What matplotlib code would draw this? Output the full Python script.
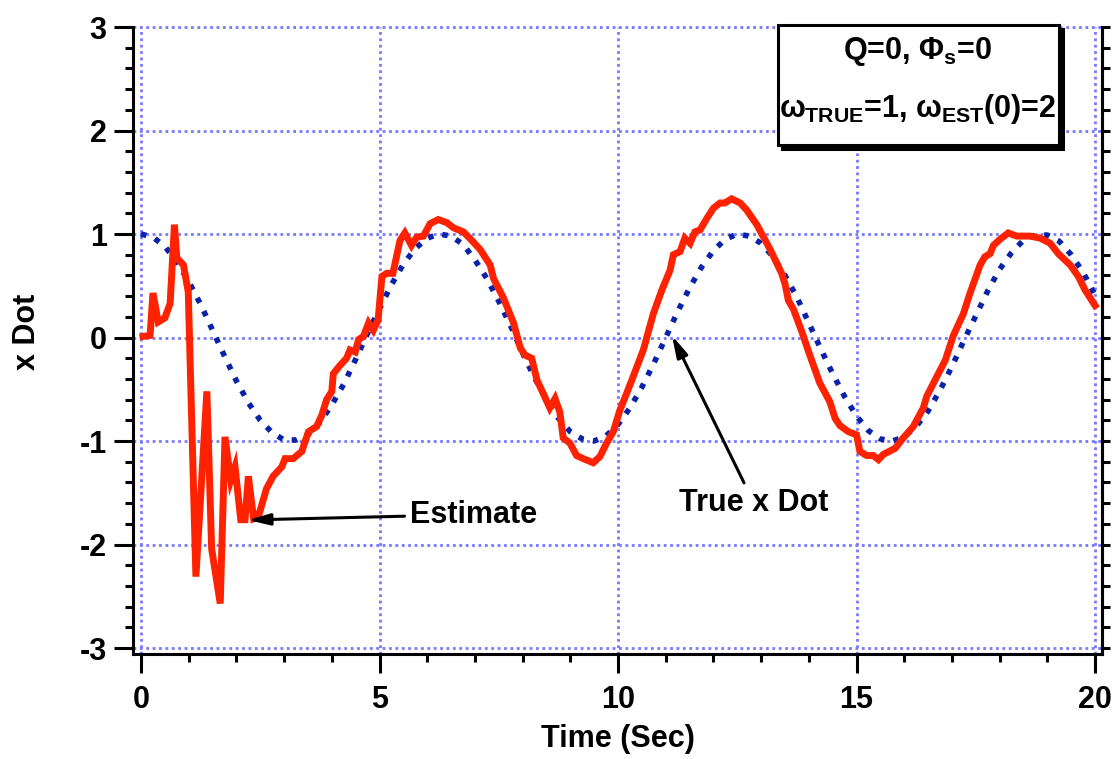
import numpy as np
import matplotlib
matplotlib.use('Agg')
import matplotlib.pyplot as plt
from matplotlib.patches import Rectangle

plt.rcParams['font.family'] = ['Liberation Sans', 'DejaVu Sans']
plt.rcParams['font.weight'] = 'bold'
plt.rcParams['axes.unicode_minus'] = False
plt.rcParams['mathtext.fontset'] = 'custom'
plt.rcParams['mathtext.rm'] = 'Liberation Sans:bold'
plt.rcParams['mathtext.it'] = 'Liberation Sans:bold'
plt.rcParams['mathtext.bf'] = 'Liberation Sans:bold'

# true x dot, every 0.25 s
t_true = np.arange(0, 20.01, 0.25)
x_true = [1.00, 0.97, 0.88, 0.73, 0.54, 0.32, 0.07, -0.18, -0.42, -0.63,
          -0.80, -0.92, -0.99, -0.99, -0.94, -0.82, -0.65, -0.45, -0.21, 0.04,
          0.28, 0.51, 0.71, 0.86, 0.96, 1.00, 0.98, 0.90, 0.75, 0.57,
          0.35, 0.11, -0.15, -0.39, -0.60, -0.78, -0.91, -0.98, -1.00, -0.95,
          -0.84, -0.68, -0.48, -0.25, 0.00, 0.25, 0.48, 0.68, 0.84, 0.95,
          1.00, 0.98, 0.91, 0.78, 0.60, 0.39, 0.14, -0.11, -0.35, -0.57,
          -0.76, -0.90, -0.98, -1.00, -0.96, -0.86, -0.71, -0.51, -0.28, -0.03,
          0.21, 0.45, 0.66, 0.82, 0.94, 0.99, 0.99, 0.93, 0.80, 0.63, 0.41]

# estimate (red)
t_est = [0.04, 0.19, 0.25, 0.36, 0.50, 0.61, 0.70, 0.75, 0.89, 0.99,
         1.15, 1.38, 1.48, 1.66, 1.76, 1.88, 1.97, 2.09, 2.18, 2.25,
         2.36, 2.46, 2.63, 2.77, 2.95, 3.02, 3.19, 3.37, 3.51, 3.68,
         3.79, 3.89, 4.00, 4.03, 4.17, 4.31, 4.38, 4.49, 4.56, 4.66,
         4.77, 4.87, 4.97, 5.05, 5.15, 5.28, 5.43, 5.53, 5.67, 5.78,
         5.92, 6.06, 6.23, 6.41, 6.55, 6.76, 6.93, 7.11, 7.32, 7.39,
         7.60, 7.81, 7.95, 8.05, 8.19, 8.30, 8.43, 8.57, 8.68, 8.78,
         8.85, 8.99, 9.13, 9.27, 9.48, 9.62, 9.76, 9.90, 10.04, 10.18,
         10.29, 10.53, 10.74, 10.92, 11.09, 11.16, 11.30, 11.40, 11.51, 11.61,
         11.72, 11.86, 12.00, 12.14, 12.24, 12.38, 12.56, 12.70, 12.91, 13.19,
         13.43, 13.50, 13.57, 13.68, 13.85, 14.02, 14.23, 14.44, 14.55, 14.65,
         14.83, 15.00, 15.07, 15.21, 15.35, 15.46, 15.56, 15.81, 15.98, 16.19,
         16.40, 16.47, 16.68, 16.86, 17.03, 17.24, 17.38, 17.59, 17.69, 17.80,
         17.87, 18.01, 18.18, 18.36, 18.64, 18.85, 19.06, 19.23, 19.48, 19.65,
         19.79, 20.00]
x_est = [0.01, 0.02, 0.43, 0.15, 0.19, 0.33, 1.09, 0.77, 0.70, 0.44,
         -2.31, -0.52, -2.04, -2.57, -0.96, -1.38, -1.25, -1.76, -1.76, -1.34,
         -1.75, -1.73, -1.46, -1.34, -1.25, -1.17, -1.17, -1.10, -0.91, -0.86,
         -0.75, -0.60, -0.52, -0.35, -0.27, -0.20, -0.12, -0.14, -0.02, 0.01,
         0.14, 0.07, 0.17, 0.59, 0.62, 0.62, 0.94, 1.01, 0.89, 0.97,
         0.98, 1.10, 1.14, 1.11, 1.06, 1.02, 0.94, 0.85, 0.70, 0.57,
         0.38, 0.14, -0.10, -0.17, -0.20, -0.41, -0.54, -0.68, -0.59, -0.72,
         -0.97, -1.02, -1.14, -1.17, -1.21, -1.15, -1.02, -0.91, -0.70, -0.54,
         -0.41, -0.12, 0.23, 0.46, 0.65, 0.80, 0.83, 0.96, 0.91, 1.02,
         1.04, 1.15, 1.25, 1.30, 1.30, 1.34, 1.30, 1.23, 1.09, 0.85,
         0.62, 0.52, 0.36, 0.27, 0.06, -0.17, -0.44, -0.62, -0.78, -0.85,
         -0.91, -0.94, -1.10, -1.14, -1.14, -1.18, -1.13, -1.07, -0.97, -0.86,
         -0.68, -0.57, -0.38, -0.22, 0.02, 0.23, 0.43, 0.70, 0.78, 0.81,
         0.89, 0.95, 1.01, 0.98, 0.98, 0.96, 0.91, 0.81, 0.70, 0.59,
         0.46, 0.31]

fig = plt.figure(figsize=(11.16, 7.59), dpi=100)
ax = fig.add_axes([0.1192, 0.1383, 0.8683, 0.8261])

ax.plot(t_true, x_true, color='#0a22a8', lw=4.0, linestyle=(0, (1, 1.65)),
        dash_capstyle='butt', zorder=3)
ax.plot(t_est, x_est, color='#ff2200', lw=5.0, solid_joinstyle='miter', zorder=4)

ax.set_xlim(-0.168, 20.147)
ax.set_ylim(-3.058, 3.0)
ax.set_xticks([0, 5, 10, 15, 20])
ax.set_xticks(np.arange(0, 21, 1), minor=True)
ax.set_yticks(np.arange(-3, 4, 1))
ax.set_yticks(np.arange(-3, 3.01, 0.2), minor=True)
ax.grid(True, which='major', color='#7878ff', lw=2.0, linestyle=(0, (1, 1.3)))
for gl in ax.get_xgridlines() + ax.get_ygridlines():
    gl.set_clip_on(False)

ax.spines['top'].set_visible(False)
for s in ['left', 'bottom', 'right']:
    ax.spines[s].set_linewidth(2.2)
ax.tick_params(which='major', direction='out', length=14, width=2.2,
               labelsize=22, pad=5)
ax.tick_params(which='minor', direction='out', length=6, width=2.2)
ax.tick_params(axis='x', which='major', pad=8)
for lab in ax.get_xticklabels() + ax.get_yticklabels():
    lab.set_fontweight('bold')

# right side ticks are short for both major and minor
ax2 = ax.twinx()
ax2.set_ylim(ax.get_ylim())
ax2.set_yticks(np.arange(-3, 4, 1))
ax2.set_yticks(np.arange(-3, 3.01, 0.2), minor=True)
ax2.tick_params(which='both', direction='out', length=6, width=2.2, labelright=False)
for s in ['left', 'bottom', 'top']:
    ax2.spines[s].set_visible(False)
ax2.spines['right'].set_linewidth(2.2)

ax.set_xlabel('Time (Sec)', fontsize=22, fontweight='bold', va='center')
ax.xaxis.set_label_coords(0.5, -0.136)
ax.set_ylabel('x Dot', fontsize=22, fontweight='bold', va='center')
ax.yaxis.set_label_coords(-0.109, 0.514)

arr = dict(arrowstyle='-|>,head_length=0.65,head_width=0.17', color='black',
           lw=2.2, mutation_scale=20, shrinkA=2, shrinkB=0)
ax.annotate('Estimate', xy=(2.24, -1.763), xytext=(5.64, -1.71),
            fontsize=22, fontweight='bold', ha='left', va='center',
            arrowprops=arr, zorder=6)
ax.annotate('True x Dot', xy=(11.13, 0.02), xytext=(12.85, -1.60),
            fontsize=22, fontweight='bold', ha='center', va='center',
            arrowprops=arr, zorder=6)

# parameter box with drop shadow
W, H = 1116.0, 759.0
bx0, by0, bx1, by1 = 778, 25, 1059, 145
fig.add_artist(Rectangle(((bx0 + 4) / W, 1 - (by1 + 4) / H), (bx1 - bx0) / W,
                         (by1 - by0) / H, transform=fig.transFigure,
                         facecolor='black', edgecolor='black', lw=2.2, zorder=5))
fig.add_artist(Rectangle((bx0 / W, 1 - by1 / H), (bx1 - bx0) / W,
                         (by1 - by0) / H, transform=fig.transFigure,
                         facecolor='white', edgecolor='black', lw=2.2, zorder=6))
fig.text(918 / W, 1 - 59 / H, r'Q=0, $\Phi_{s}$=0', fontsize=22,
         fontweight='bold', ha='center', va='baseline', zorder=7)
fig.text(918 / W, 1 - 117 / H, r'$\omega_{TRUE}$=1, $\omega_{EST}$(0)=2',
         fontsize=22, fontweight='bold', ha='center', va='baseline', zorder=7)

fig.savefig('out.png', dpi=100)
